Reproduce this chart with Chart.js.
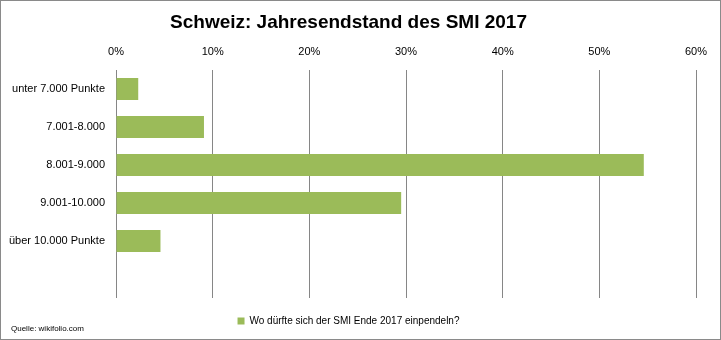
<!DOCTYPE html>
<html>
<head>
<meta charset="utf-8">
<script src="https://cdn.jsdelivr.net/npm/chart.js@4"></script>
<style>
  html, body { margin: 0; padding: 0; background: #fff; }
  #wrap { position: relative; width: 719px; height: 338px; border: 1px solid #8a8a8a; }
  #quelle { position: absolute; left: 10px; top: 323px; font: 8px "Liberation Sans", Arial, sans-serif; color: #000; }
</style>
</head>
<body>
<div id="wrap">
  <canvas id="smiChart" width="719" height="338"></canvas>
  <div id="quelle">Quelle: wikifolio.com</div>
</div>
<script>
// Daten
const kategorien = ['unter 7.000 Punkte', '7.001-8.000', '8.001-9.000', '9.001-10.000', 'über 10.000 Punkte', ''];
const anteile = [2.3, 9.1, 54.6, 29.5, 4.6, null];
const reihenName = 'Wo dürfte sich der SMI Ende 2017 einpendeln?';
const xTicks = [0, 10, 20, 30, 40, 50, 60];

const arial = '"Liberation Sans", Arial, sans-serif';

new Chart(document.getElementById('smiChart').getContext('2d'), {
    type: 'bar',
    data: {
        labels: kategorien,
        datasets: [{ label: reihenName, data: anteile, backgroundColor: '#9bbb59', barPercentage: 0.58, categoryPercentage: 1 }]
    },
    options: {
        indexAxis: 'y',
        responsive: false,
        animation: false,
        layout: { padding: { left: 0, right: 24, top: 0, bottom: 3 } },
        plugins: {
            title: { display: true, text: 'Schweiz: Jahresendstand des SMI 2017', color: '#000', font: { family: arial, size: 19, weight: 'bold' }, padding: { top: 10, bottom: 1 } },
            legend: { position: 'bottom', labels: { boxWidth: 7, boxHeight: 7, color: '#000', font: { family: arial, size: 10 }, padding: 18 } },
            tooltip: { enabled: false }
        },
        scales: {
            x: {
                position: 'top', min: 0, max: 60,
                afterBuildTicks: ax => { ax.ticks = xTicks.map(v => ({ value: v })); },
                ticks: { color: '#000', font: { family: arial, size: 11 }, padding: 11, callback: v => v + '%' },
                grid: { color: '#868686', lineWidth: 1, drawTicks: false },
                border: { display: false }
            },
            y: {
                afterFit: ax => { ax.width = 115; },
                ticks: { color: '#000', font: { family: arial, size: 11 }, padding: 3 },
                grid: { display: false },
                border: { display: false }
            }
        }
    }
});
</script>
</body>
</html>
